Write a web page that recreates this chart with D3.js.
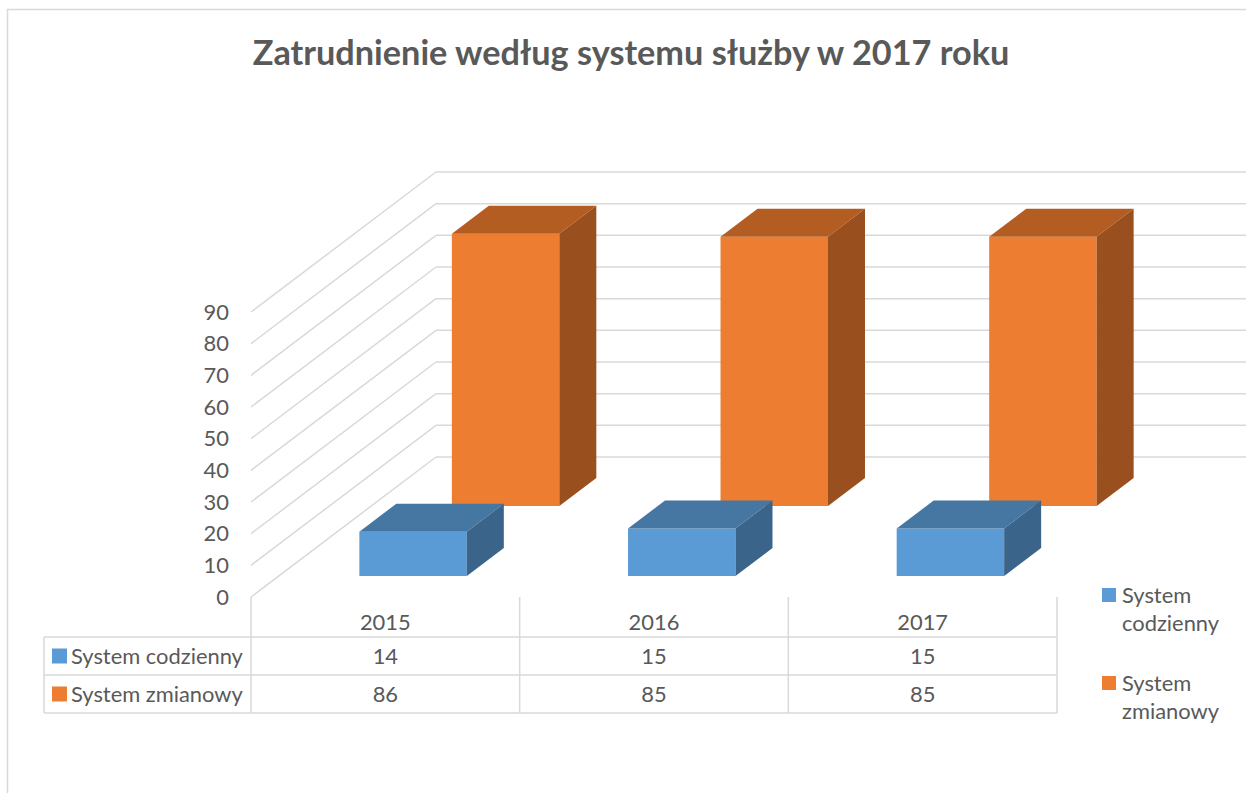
<!DOCTYPE html>
<html>
<head>
<meta charset="utf-8">
<script src="https://cdn.jsdelivr.net/npm/d3@7"></script>
<style>
  body { margin: 0; background: #fff; }
  text { font-family: Lato, "Open Sans", sans-serif; fill: #595959; }
</style>
</head>
<body>
<svg id="chart"></svg>
<script>
const years = ["2015", "2016", "2017"];
const seriesNames = ["System codzienny", "System zmianowy"];
const codzienny = [14, 15, 15];
const zmianowy = [86, 85, 85];
const yTicks = [0, 10, 20, 30, 40, 50, 60, 70, 80, 90];
const title = "Zatrudnienie według systemu służby w 2017 roku";

const values = [codzienny, zmianowy];
const frontColors = ["#5b9bd5", "#ed7d31"];
const topColors = ["#4677a2", "#b45d23"];
const sideColors = ["#3a6489", "#9a4f1e"];

const W = 1246, H = 793;
const floorLeft = 251, floorRight = 1057;
const depthDx = 185, depthDy = -140;

const svg = d3.select("#chart")
    .attr("width", W)
    .attr("height", H);

// chart frame
svg.append("rect")
    .attr("x", 7.5).attr("y", 9.5)
    .attr("width", W).attr("height", H)
    .attr("fill", "none")
    .attr("stroke", "#d9d9d9")
    .attr("stroke-width", 1.5);

const y = d3.scaleLinear().domain([0, 90]).range([597, 312]);
const x = d3.scaleBand().domain(years).range([floorLeft, floorRight])
    .paddingInner(0.6).paddingOuter(0.3);
const col = d3.scaleBand().domain(years).range([floorLeft, floorRight]);
const z = d3.scaleBand().domain(seriesNames).range([0, 1])
    .paddingInner(0.6).paddingOuter(0.3);
const dx = d3.scaleLinear().domain([0, 1]).range([0, depthDx]);
const dy = d3.scaleLinear().domain([0, 1]).range([0, depthDy]);

const proj = (px, v, d) => [px + dx(d), y(v) + dy(d)];

// walls
const grid = svg.append("g")
    .attr("stroke", "#d9d9d9")
    .attr("stroke-width", 1.5)
    .attr("fill", "none");

grid.selectAll(".side")
    .data(yTicks)
  .enter().append("line")
    .attr("x1", t => proj(floorLeft, t, 0)[0])
    .attr("y1", t => proj(floorLeft, t, 0)[1])
    .attr("x2", t => proj(floorLeft, t, 1)[0])
    .attr("y2", t => proj(floorLeft, t, 1)[1]);

grid.selectAll(".back")
    .data(yTicks)
  .enter().append("line")
    .attr("x1", t => proj(floorLeft, t, 1)[0])
    .attr("y1", t => proj(floorLeft, t, 1)[1])
    .attr("x2", t => proj(floorRight, t, 1)[0] + 4)
    .attr("y2", t => proj(floorRight, t, 1)[1]);

// y axis labels
svg.append("g")
    .attr("transform", `translate(${floorLeft},0)`)
    .call(d3.axisLeft(y).tickValues(yTicks).tickSize(0).tickPadding(22))
    .call(g => g.select(".domain").remove())
    .selectAll("text")
    .attr("class", "lbl")
    .attr("fill", "#595959");

// bars, back row first
const bars = svg.append("g");
[1, 0].forEach(s => {
  const d0 = z(seriesNames[s]), d1 = d0 + z.bandwidth();
  const g = bars.append("g");
  const rows = years.map((yr, i) => ({ x0: x(yr), x1: x(yr) + x.bandwidth(), v: values[s][i] }));
  const poly = pts => pts.map(p => p.join(",")).join(" ");

  g.selectAll(".front").data(rows).enter().append("polygon")
      .attr("fill", frontColors[s])
      .attr("points", r => poly([proj(r.x0, 0, d0), proj(r.x1, 0, d0), proj(r.x1, r.v, d0), proj(r.x0, r.v, d0)]));
  g.selectAll(".top").data(rows).enter().append("polygon")
      .attr("fill", topColors[s])
      .attr("points", r => poly([proj(r.x0, r.v, d0), proj(r.x1, r.v, d0), proj(r.x1, r.v, d1), proj(r.x0, r.v, d1)]));
  g.selectAll(".sidef").data(rows).enter().append("polygon")
      .attr("fill", sideColors[s])
      .attr("points", r => poly([proj(r.x1, 0, d0), proj(r.x1, 0, d1), proj(r.x1, r.v, d1), proj(r.x1, r.v, d0)]));
});

// data table
const tableLeft = 44, headTop = 597;
const rowY = [637, 675, 713];
const table = svg.append("g")
    .attr("stroke", "#d9d9d9")
    .attr("stroke-width", 1.5);

table.selectAll(".hl").data(rowY).enter().append("line")
    .attr("x1", tableLeft).attr("x2", floorRight)
    .attr("y1", d => d).attr("y2", d => d);
table.append("line")
    .attr("x1", tableLeft).attr("x2", tableLeft)
    .attr("y1", rowY[0]).attr("y2", rowY[2]);
table.selectAll(".vl").data([floorLeft].concat(years.map(yr => col(yr) + col.bandwidth())))
  .enter().append("line")
    .attr("x1", d => d).attr("x2", d => d)
    .attr("y1", headTop).attr("y2", rowY[2]);

svg.selectAll(".year").data(years).enter().append("text")
    .attr("class", "lbl")
    .attr("x", d => col(d) + col.bandwidth() / 2)
    .attr("y", 622)
    .attr("dy", "0.35em")
    .attr("text-anchor", "middle")
    .text(d => d);

seriesNames.forEach((name, s) => {
  const cy = (rowY[s] + rowY[s + 1]) / 2;
  svg.append("rect")
      .attr("x", 52).attr("y", cy - 7.5)
      .attr("width", 15).attr("height", 15)
      .attr("fill", frontColors[s]);
  svg.append("text")
      .attr("class", "lbl")
      .attr("x", 71).attr("y", cy)
      .attr("dy", "0.35em")
      .text(name);
  svg.selectAll(".val" + s).data(values[s]).enter().append("text")
      .attr("class", "lbl")
      .attr("x", (d, i) => col(years[i]) + col.bandwidth() / 2)
      .attr("y", cy)
      .attr("dy", "0.35em")
      .attr("text-anchor", "middle")
      .text(d => d);
});

// legend
const legendY = [595, 683];
seriesNames.forEach((name, s) => {
  const words = name.split(" ");
  svg.append("rect")
      .attr("x", 1102).attr("y", legendY[s] - 7)
      .attr("width", 14).attr("height", 14)
      .attr("fill", frontColors[s]);
  svg.selectAll(".leg" + s).data(words).enter().append("text")
      .attr("class", "lbl")
      .attr("x", 1122)
      .attr("y", (d, i) => legendY[s] + i * 28.5)
      .attr("dy", "0.35em")
      .text(d => d);
});

// title
const titleText = svg.append("text")
    .attr("x", 631)
    .attr("y", 53)
    .attr("dy", "0.35em")
    .attr("text-anchor", "middle")
    .attr("font-weight", "bold")
    .attr("font-size", 30)
    .text(title);

// fit font sizes to the measured widths of the original
const probe = svg.append("text").attr("font-size", 20).text("System codzienny");
const fs = 20 * 172 / probe.node().getComputedTextLength();
probe.remove();
svg.selectAll(".lbl").attr("font-size", fs).attr("font-family", null);
titleText.attr("font-size", 30 * 757 / titleText.node().getComputedTextLength());
</script>
</body>
</html>
